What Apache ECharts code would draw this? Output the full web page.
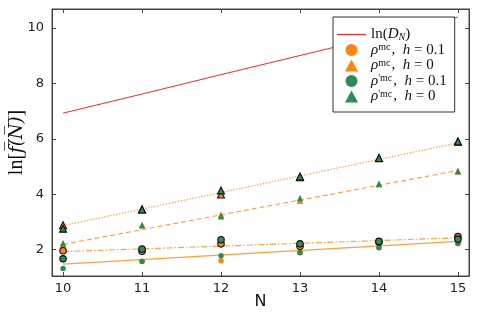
<!DOCTYPE html>
<html><head><meta charset="utf-8">
<script src="https://cdn.jsdelivr.net/npm/echarts@6/dist/echarts.min.js"></script>
<style>html,body{margin:0;padding:0;background:#fff}#c{width:478px;height:319px}</style>
</head><body><div id="c"></div>
<script>
const N = [10, 11, 12, 13, 14, 15];
const lnD = [6.93, 7.62, 8.32, 9.01, 9.70, 10.40];
// legend series (no edge)
const rhoMcH01 = [1.66, 1.58, 1.60, 1.90, 2.08, 2.23];
const rhoMcH0 = [2.18, 2.87, 3.27, 3.77, 4.36, 4.82];
const rhoPMcH01 = [1.32, 1.57, 1.78, 1.89, 2.07, 2.22];
const rhoPMcH0 = [2.23, 2.89, 3.21, 3.86, 4.38, 4.84];
// black-edged markers
const edgeOrangeCircle = [1.96, 1.94, 2.21, 2.12, 2.28, 2.47];
const edgeGreenCircle = [1.67, 2.02, 2.36, 2.21, 2.30, 2.38];
const edgeOrangeTri = [2.88, 3.45, 3.99, 4.62, 5.30, 5.90];
const edgeGreenTri = [2.76, 3.45, 4.14, 4.64, 5.31, 5.91];
// fit lines (values at N=10 and N=15)
const fitN = [10, 15];
const fitDotted = [2.87, 5.86];
const fitDashed = [2.19, 4.86];
const fitDashDot = [1.93, 2.43];
const fitSolid = [1.48, 2.30];

const ORANGE = '#ff8410';
const GREEN = '#2e8b57';
const RED = '#ee2a2a';
const pair = (xs, ys) => xs.map((x, i) => [x, ys[i]]);

const chart = echarts.init(document.getElementById('c'), null, {renderer: 'canvas'});
const intFmt = v => (Math.abs(v - Math.round(v)) < 1e-6 ? String(Math.round(v)) : '');
const baseAxis = {
  type: 'value', splitLine: {show: false},
  axisLine: {show: true, onZero: false, lineStyle: {color: '#444', width: 1}},
  axisTick: {show: true, inside: true, length: 4, lineStyle: {color: '#444'}},
};
function fit(ys, dash, z) {
  return {type: 'line', data: pair(fitN, ys), symbol: 'none', silent: true, z: z,
    lineStyle: {color: ORANGE, width: 1.1, opacity: 0.8, type: dash}};
}
function sc(name, ys, symbol, color, size, edge, z) {
  return {type: 'scatter', name: name, data: pair(N, ys), symbol: symbol, symbolSize: size, z: z,
    symbolKeepAspect: true,
    itemStyle: {color: color, opacity: 1, borderColor: edge ? '#111' : color, borderWidth: edge ? 1.1 : 0}};
}
const legendText = {
  'lnD': '{t|ln(}{i|D}{sub|N}{t|)}',
  'a': '{i|ρ}{sup|mc}{t|,  }{i|h}{t| = 0.1}',
  'b': '{i|ρ}{sup|mc}{t|,  }{i|h}{t| = 0}',
  'c': '{i|ρ}{sup|\'mc}{t|,  }{i|h}{t| = 0.1}',
  'd': '{i|ρ}{sup|\'mc}{t|,  }{i|h}{t| = 0}'
};
const TRI = 'path://M6.5,0L13,12H0Z';
const fam = '"Liberation Serif", "DejaVu Serif", serif';
chart.setOption({
  animation: false,
  backgroundColor: '#fff',
  grid: {left: 52, right: 9, top: 9, bottom: 43, containLabel: false, outerBoundsMode: 'none',
    show: true, borderColor: '#444', borderWidth: 1, backgroundColor: 'transparent'},
  xAxis: [
    Object.assign({}, baseAxis, {min: 9.86, max: 15.14, splitNumber: 5, position: 'bottom',
      name: 'N', nameLocation: 'middle', nameGap: 18, nameMoveOverlap: false,
      nameTextStyle: {fontFamily: '"DejaVu Sans"', fontSize: 16, color: '#111'},
      axisLabel: {formatter: intFmt, fontFamily: '"DejaVu Sans"', fontSize: 13, color: '#222', margin: 6, showMinLabel: true, showMaxLabel: true}}),
    Object.assign({}, baseAxis, {min: 9.86, max: 15.14, splitNumber: 5, position: 'top', axisLabel: {show: false}})
  ],
  yAxis: [
    Object.assign({}, baseAxis, {min: 1.05, max: 10.69, splitNumber: 5, position: 'left',
      name: '{a|ln[}{b|f̅(̅N̅)̅}{a|]}', nameLocation: 'middle', nameGap: 25, nameRotate: 90, nameMoveOverlap: false,
      nameTextStyle: {fontFamily: fam, fontSize: 20, color: '#111',
        rich: {
          a: {fontFamily: fam, fontSize: 20, color: '#111'},
          b: {fontFamily: '"DejaVu Serif"', fontSize: 18, fontStyle: 'italic', color: '#111'}
        }},
      axisLabel: {formatter: intFmt, fontFamily: '"DejaVu Sans"', fontSize: 13, color: '#222', margin: 8}}),
    Object.assign({}, baseAxis, {min: 1.05, max: 10.69, splitNumber: 5, position: 'right', axisLabel: {show: false}})
  ],
  legend: {
    left: 333, top: 17, orient: 'vertical', backgroundColor: '#fff', borderColor: '#333', borderWidth: 1,
    borderRadius: 0, padding: [10, 8, 8, 4], itemGap: 0.5, itemWidth: 29, itemHeight: 12, z: 20,
    symbolKeepAspect: true,
    data: [{name: 'lnD', icon: 'path://M0,0H29V1.2H0Z'}, 'a', {name: 'b', icon: TRI}, 'c', {name: 'd', icon: TRI}],
    formatter: n => legendText[n],
    textStyle: {
      fontFamily: fam, fontSize: 15, color: '#111',
      rich: {
        t: {fontFamily: fam, fontSize: 15, color: '#111', lineHeight: 13},
        i: {fontFamily: fam, fontSize: 15, fontStyle: 'italic', color: '#111', lineHeight: 13},
        sup: {fontFamily: fam, fontSize: 10, color: '#111', padding: [0, 1, 5, 0], lineHeight: 8},
        sub: {fontFamily: fam, fontSize: 10, fontStyle: 'italic', color: '#111', padding: [5, 0, 0, 0], lineHeight: 8}
      }
    }
  },
  series: [
    {type: 'line', name: 'lnD', data: pair(N, lnD), symbol: 'none', z: 2,
      lineStyle: {color: RED, width: 1}, itemStyle: {color: RED}},
    fit(fitDotted, [1.5, 1.5], 3),
    fit(fitDashed, [5, 3], 3),
    fit(fitDashDot, [6, 2, 1.5, 2], 3),
    fit(fitSolid, 'solid', 3),
    sc('a', rhoMcH01, 'circle', ORANGE, 5.5, false, 5),
    sc('b', rhoMcH0, 'triangle', ORANGE, 6.5, false, 5),
    sc('c', rhoPMcH01, 'circle', GREEN, 5.5, false, 6),
    sc('d', rhoPMcH0, 'triangle', GREEN, 6.5, false, 6),
    sc('eoc', edgeOrangeCircle, 'circle', ORANGE, 6.5, true, 7),
    sc('egc', edgeGreenCircle, 'circle', GREEN, 6.5, true, 8),
    sc('eot', edgeOrangeTri, 'triangle', ORANGE, 7, true, 7),
    sc('egt', edgeGreenTri, 'triangle', GREEN, 7, true, 8)
  ]
});
</script></body></html>
